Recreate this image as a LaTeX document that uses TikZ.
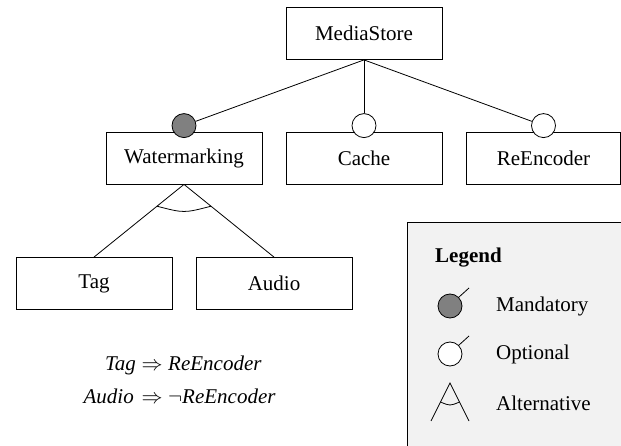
\RequirePackage{fix-cm}
\documentclass[tikz,border=0pt]{standalone}
\usepackage{fontspec}
\setmainfont{Liberation Serif}
\usetikzlibrary{calc}
\definecolor{mandfill}{HTML}{808080}
\definecolor{legbg}{HTML}{F2F2F2}
\begin{document}
\begin{tikzpicture}[x=1pt,y=-1pt,
  txt/.style={font=\fontsize{21}{24}\selectfont},
  feat/.style={txt, draw, line width=0.8pt, minimum width=156pt, minimum height=52pt, inner sep=0pt},
  conn/.style={line width=0.8pt},
  mand/.style={circle, draw, line width=0.8pt, fill=mandfill, minimum size=24pt, inner sep=0pt},
  opt/.style={circle, draw, line width=0.8pt, fill=white, minimum size=24pt, inner sep=0pt},
  cons/.style={txt, inner sep=0pt},
  legbox/.style={draw, line width=0.8pt, fill=legbg, minimum width=216pt, minimum height=226pt, inner sep=0pt},
  leglabel/.style={txt, anchor=west, inner sep=0pt}
]
\useasboundingbox (0,0) rectangle (621,446);

% legend background
\node[legbox, anchor=north west] (leg) at (407,222) {};

% features
\node[feat] (ms) at (364,33.5) {MediaStore};
\node[feat] (wm) at (184,158) {Watermarking};
\node[feat] (cache) at (364,158) {Cache};
\node[feat, minimum width=154pt] (re) at (543.5,158) {ReEncoder};
\node[feat] (tag) at (94,283.5) {Tag};
\node[feat] (audio) at (274,283.5) {Audio};

% mandatory / optional markers
\node[mand] (cwm) at ($(wm.north)+(0,-6)$) {};
\node[opt] (ccache) at ($(cache.north)+(0,-6)$) {};
\node[opt] (cre) at ($(re.north)+(0,-6)$) {};
\draw[conn] (ms.south) -- (cwm);
\draw[conn] (ms.south) -- (ccache);
\draw[conn] (ms.south) -- (cre);

% alternative group
\draw[conn] (wm.south) -- (tag.north);
\draw[conn] (wm.south) -- (audio.north);
\coordinate (a1) at ($(wm.south)!0.3!(tag.north)$);
\coordinate (a2) at ($(wm.south)!0.3!(audio.north)$);
\draw[conn] (a1) .. controls ($(a1)!0.5!(a2)+(0,7)$) .. (a2);

% cross-tree constraints
\node[cons, anchor=base east] (t1) at (136,370) {\itshape Tag};
\node[cons, anchor=base] (i1) at (152,370) {$\Rightarrow$};
\node[cons, anchor=base west] (r1) at (168,370) {\itshape ReEncoder};
\node[cons, anchor=base east] (t2) at (134,403) {\itshape Audio};
\node[cons, anchor=base] (i2) at (152,403) {$\Rightarrow$};
\node[cons, anchor=base west] (r2) at (168,403) {$\neg$\itshape ReEncoder};

% legend content
\node[txt, font=\fontsize{21}{24}\selectfont\bfseries, anchor=west, inner sep=0pt] (lt) at (435,258) {Legend};
\node[mand] (lm) at (450,306) {};
\coordinate (lmt) at (469,288);
\draw[conn] (lm.45) -- (lmt);
\node[leglabel] (lml) at (496,306) {Mandatory};
\node[opt] (lo) at (450,354) {};
\coordinate (lot) at (469,336);
\draw[conn] (lo.45) -- (lot);
\node[leglabel] (lol) at (496,354) {Optional};
\coordinate (la) at (450,383);
\coordinate (lal) at (431,421);
\coordinate (lar) at (469,421);
\draw[conn] (lal) -- (la) -- (lar);
\coordinate (lb1) at ($(la)!0.5!(lal)$);
\coordinate (lb2) at ($(la)!0.5!(lar)$);
\draw[conn] (lb1) .. controls ($(lb1)!0.5!(lb2)+(0,4)$) .. (lb2);
\node[leglabel] (lal2) at (496,403) {Alternative};
\end{tikzpicture}
\end{document}
